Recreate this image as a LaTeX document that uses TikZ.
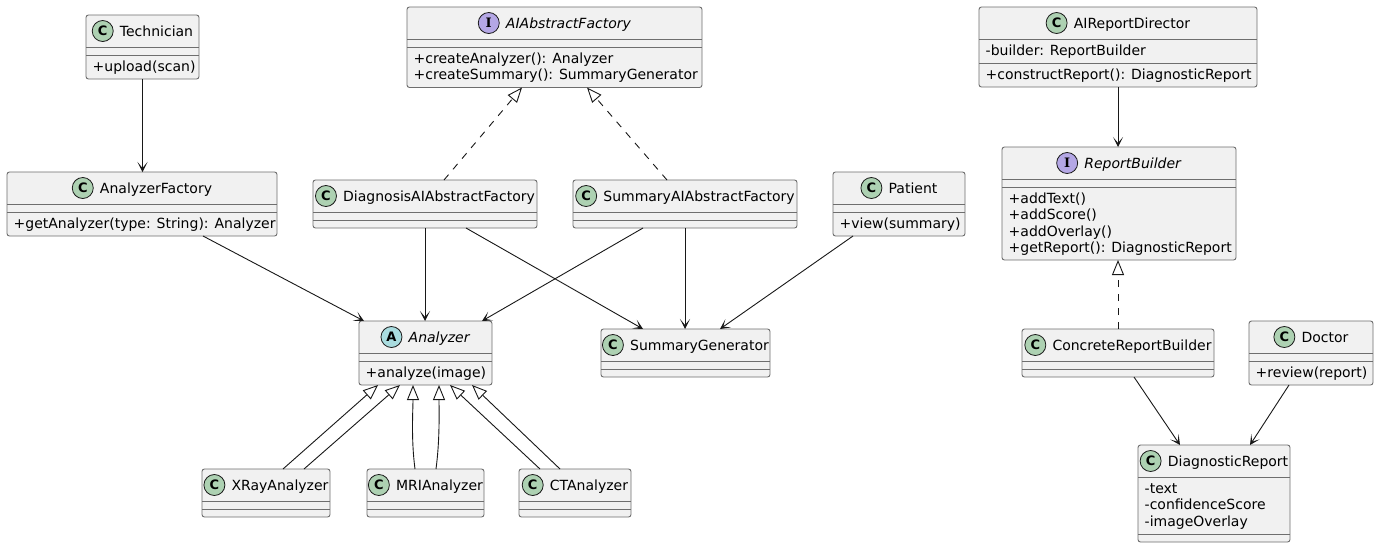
\documentclass[tikz,border=0pt]{standalone}
\usepackage{fontspec}
\setmainfont{DejaVu Sans}
\newfontfamily\iconserif{DejaVu Serif}
\usetikzlibrary{arrows.meta,calc}
\definecolor{boxfill}{HTML}{F1F1F1}
\definecolor{boxline}{HTML}{6E6E6E}
\definecolor{ink}{HTML}{181818}
\definecolor{cgreen}{HTML}{ADD1B2}
\definecolor{acyan}{HTML}{A9DCDF}
\definecolor{ipurple}{HTML}{B4A7E5}
\newcommand\umlfont{\fontsize{14pt}{16.3pt}\selectfont}
\tikzset{
  cbox/.style={draw=boxline, fill=boxfill, line width=0.9pt, rounded corners=2.5pt, inner sep=0pt, outer sep=0pt},
  hname/.style={inner sep=0pt, font=\umlfont},
  mem/.style={inner sep=0pt, font=\umlfont, anchor=base west},
  icon/.style={circle, draw=ink, line width=0.8pt, minimum size=21pt, inner sep=0pt, font=\bfseries\fontsize{13pt}{13pt}\selectfont},
  iconC/.style={icon, fill=cgreen},
  iconA/.style={icon, fill=acyan},
  iconI/.style={icon, fill=ipurple, font=\iconserif\bfseries\fontsize{13pt}{13pt}\selectfont},
  sepline/.style={draw=boxline, line width=0.9pt},
  assoc/.style={draw=ink, line width=0.9pt, -{Stealth[length=10pt,width=10pt,inset=6pt]}},
  gen/.style={draw=ink, line width=0.9pt, -{Triangle[length=15pt,width=12pt,fill=white]}},
  real/.style={gen, dash pattern=on 7pt off 7pt},
}
% #1 name, #2 left, #3 top, #4 right, #5 bottom, #6 icon style, #7 letter, #8 title, #9 second separator y
\newcommand\umlclass[9]{%
  \node[cbox, anchor=north west, minimum width={(#4-#2)*1pt}, minimum height={(#5-#3)*1pt}] (#1) at (#2,#3) {};
  \node[hname, anchor=base] (#1-n) at ({(#2+#4)/2+14},{#3+21}) {#8};
  \node[#6] (#1-i) at ([xshift=-17pt,yshift=5pt]#1-n.base west) {#7};
  \draw[sepline] (#2,#3+32) -- (#4,#3+32);
  \draw[sepline] (#2,#9) -- (#4,#9);
}
\begin{document}
\begin{tikzpicture}[x=1pt,y=-1pt]
\path[use as bounding box, fill=white] (0,0) rectangle (1379,547);

% rank 1
\umlclass{tech}{86}{15}{199}{79}{iconC}{C}{Technician}{55}
\node[mem] (tech-m1) at (92.5,71.5) {+upload(scan)};

\umlclass{aiaf}{407}{7}{702}{87.5}{iconI}{I}{\textit{AIAbstractFactory}}{47}
\node[mem] (aiaf-m1) at (413.5,63.5) {+createAnalyzer(): Analyzer};
\node[mem] (aiaf-m2) at (413.5,79.8) {+createSummary(): SummaryGenerator};

\umlclass{dir}{979}{7}{1257}{87}{iconC}{C}{AIReportDirector}{63}
\node[mem] (dir-f1) at (985.5,55.5) {-builder: ReportBuilder};
\node[mem] (dir-m1) at (985.5,79.5) {+constructReport(): DiagnosticReport};

% rank 2
\umlclass{af}{7}{172}{277}{236}{iconC}{C}{AnalyzerFactory}{212}
\node[mem] (af-m1) at (13.5,228.5) {+getAnalyzer(type: String): Analyzer};

\umlclass{diag}{313}{180}{537}{228}{iconC}{C}{DiagnosisAIAbstractFactory}{220}
\umlclass{summ}{573}{180}{797}{228}{iconC}{C}{SummaryAIAbstractFactory}{220}

\umlclass{pat}{833}{172}{965}{236}{iconC}{C}{Patient}{212}
\node[mem] (pat-m1) at (839.5,228.5) {+view(summary)};

\umlclass{rb}{1002}{147}{1236}{260}{iconI}{I}{\textit{ReportBuilder}}{187}
\node[mem] (rb-m1) at (1008.5,203.5) {+addText()};
\node[mem] (rb-m2) at (1008.5,219.8) {+addScore()};
\node[mem] (rb-m3) at (1008.5,236.1) {+addOverlay()};
\node[mem] (rb-m4) at (1008.5,252.4) {+getReport(): DiagnosticReport};

% rank 3
\umlclass{an}{359}{321}{492}{385}{iconA}{A}{\textit{Analyzer}}{361}
\node[mem] (an-m1) at (365.5,377.5) {+analyze(image)};

\umlclass{sg}{601}{329}{770}{377}{iconC}{C}{SummaryGenerator}{369}
\umlclass{crb}{1022}{329}{1214}{377}{iconC}{C}{ConcreteReportBuilder}{369}

\umlclass{doc}{1249}{321}{1373}{385}{iconC}{C}{Doctor}{361}
\node[mem] (doc-m1) at (1255.5,377.5) {+review(report)};

% rank 4
\umlclass{xr}{202}{469}{330}{517}{iconC}{C}{XRayAnalyzer}{509}
\umlclass{mri}{367}{469}{484}{517}{iconC}{C}{MRIAnalyzer}{509}
\umlclass{ct}{519}{469}{631}{517}{iconC}{C}{CTAnalyzer}{509}

\umlclass{dr}{1138}{445}{1290}{542}{iconC}{C}{DiagnosticReport}{534}
\node[mem] (dr-f1) at (1144.5,493.5) {-text};
\node[mem] (dr-f2) at (1144.5,509.8) {-confidenceScore};
\node[mem] (dr-f3) at (1144.5,526.1) {-imageOverlay};

% connectors
\draw[assoc] (tech.south) -- (tech.south |- af.north);
\draw[assoc] ([xshift=61pt]af.south) -- ([xshift=-61.5pt]an.north);
\draw[assoc] (diag.south) -- (diag.south |- an.north);
\draw[assoc] ([xshift=41pt]diag.south) -- ([xshift=-42.5pt]sg.north);
\draw[assoc] ([xshift=-42pt]summ.south) -- ([xshift=56.5pt]an.north);
\draw[assoc] (summ.south) -- (summ.south |- sg.north);
\draw[assoc] ([xshift=-46pt]pat.south) -- ([xshift=34.5pt]sg.north);

\draw[real] ([xshift=19pt]diag.north) -- ([xshift=-32.5pt]aiaf.south);
\draw[real] ([xshift=-18pt]summ.north) -- ([xshift=32.5pt]aiaf.south);

\draw[assoc] (dir.south) -- (dir.south |- rb.north);
\draw[real] (crb.north) -- (crb.north |- rb.south);
\draw[assoc] ([xshift=16pt]crb.south) -- ([xshift=-34pt]dr.north);
\draw[assoc] ([xshift=-22pt]doc.south) -- ([xshift=36pt]dr.north);

\draw[gen] ([xshift=17pt]xr.north) -- ([xshift=-47.5pt]an.south);
\draw[gen] ([xshift=38pt]xr.north) -- ([xshift=-25.5pt]an.south);
\draw[gen] ([xshift=-10.5pt]mri.north) .. controls +(-4,-30) and +(0,25) .. ([xshift=-12.5pt]an.south);
\draw[gen] ([xshift=10.5pt]mri.north) .. controls +(4,-30) and +(0,25) .. ([xshift=13.5pt]an.south);
\draw[gen] ([xshift=-35pt]ct.north) -- ([xshift=24.5pt]an.south);
\draw[gen] ([xshift=-15pt]ct.north) -- ([xshift=46.5pt]an.south);
\end{tikzpicture}
\end{document}
